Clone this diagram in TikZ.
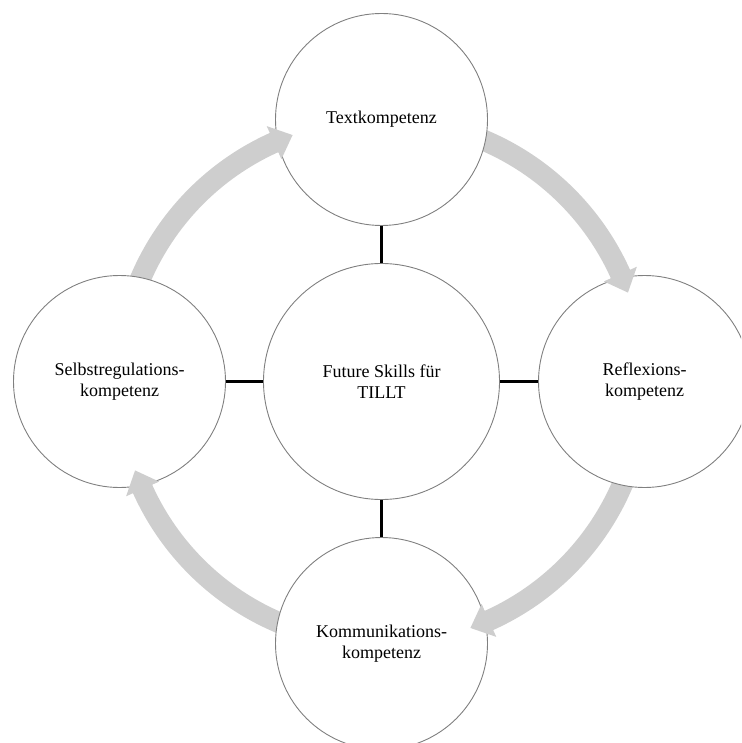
\documentclass[tikz,border=0pt]{standalone}
\usepackage{fontspec}
\setmainfont{Liberation Serif}
\definecolor{circlegray}{RGB}{128,128,128}
\definecolor{arrowgray}{RGB}{206,206,206}
\begin{document}
\begin{tikzpicture}[x=1pt,y=1pt,
  skill/.style={circle, draw=circlegray, line width=0.9pt, fill=white,
    minimum size=212pt, inner sep=0pt, align=center,
    font=\fontsize{18}{20.7}\selectfont},
  core/.style={skill, minimum size=236pt},
  conn/.style={line width=2.4pt, black},
  ringfill/.style={fill=arrowgray}]
\useasboundingbox (0,0) rectangle (741,-743);
\clip (0,0) rectangle (741,-743);
\coordinate (C) at (381.5,-381.5);
% circular arrow bands (start hidden under source circle)
\begin{scope}[shift={(C)}]
\foreach \t [evaluate=\t as \tip using \t+19.84,
             evaluate=\t as \base using \t+24.2,
             evaluate=\t as \st using \t+80] in {0,-90,-180,90}{
  \fill[ringfill] (\st:272.5pt) arc[start angle=\st, end angle=\base, radius=272.5pt]
    -- (\base:280pt) -- (\tip:262pt) -- (\base:244pt) -- (\base:251.5pt)
    arc[start angle=\base, end angle=\st, radius=251.5pt] -- cycle;
}
\end{scope}
% circles
\node[core] (M) at (C) {Future Skills für\\TILLT};
\node[skill] (T) at (381.5,-119.5) {Textkompetenz};
\node[skill] (R) at (644.5,-381.5) {Reflexions-\\kompetenz};
\node[skill] (B) at (381.5,-643.5) {Kommunikations-\\kompetenz};
\node[skill] (L) at (119.5,-381.5) {Selbstregulations-\\kompetenz};
% connectors
\draw[conn] (T) -- (M);
\draw[conn] (R) -- (M);
\draw[conn] (B) -- (M);
\draw[conn] (L) -- (M);
% arrow heads over the target circles
\begin{scope}[shift={(C)}]
\foreach \t [evaluate=\t as \tip using \t+19.84,
             evaluate=\t as \base using \t+24.2,
             evaluate=\t as \st using \t+80] in {0,-90,-180,90}{
  \begin{scope}
  \clip (\t:262pt) circle[radius=108pt];
  \fill[ringfill] (\st:272.5pt) arc[start angle=\st, end angle=\base, radius=272.5pt]
    -- (\base:280pt) -- (\tip:262pt) -- (\base:244pt) -- (\base:251.5pt)
    arc[start angle=\base, end angle=\st, radius=251.5pt] -- cycle;
  \end{scope}
}
\end{scope}
\end{tikzpicture}
\end{document}
